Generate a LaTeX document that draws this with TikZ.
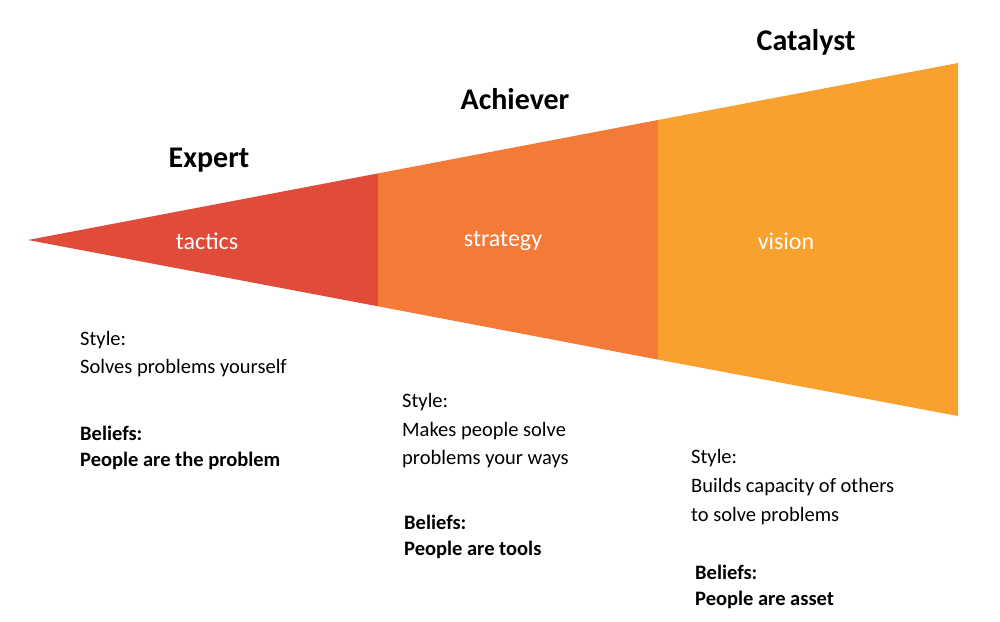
\documentclass[tikz,border=0pt]{standalone}
\usepackage{fontspec}
\setmainfont{Carlito}
\begin{document}
\begin{tikzpicture}[x=1pt,y=-1pt,
  title/.style={font=\fontsize{30}{34}\selectfont\bfseries},
  inner/.style={font=\fontsize{24}{28}\selectfont,text=white},
  body/.style={font=\fontsize{20.5}{24}\selectfont,anchor=west,inner sep=0pt},
  bbody/.style={body,font=\fontsize{20.5}{24}\selectfont\bfseries}]
\useasboundingbox (0,0) rectangle (1000,621);
\definecolor{cA}{HTML}{E04B3A}
\definecolor{cB}{HTML}{F47B37}
\definecolor{cC}{HTML}{F9A12E}
\coordinate (tip) at (28,240);
\fill[cA] (tip) -- (378,173.4) -- (378,306.3) -- cycle;
\fill[cB] (378,173.4) -- (658,120) -- (658,359.6) -- (378,306.3) -- cycle;
\fill[cC] (658,120) -- (958,63) -- (958,416) -- (658,359.6) -- cycle;
\node[title] (t1) at (209,160) {Expert};
\node[title] (t2) at (515,99) {Achiever};
\node[title] (t3) at (806,42) {Catalyst};
\node[inner] (i1) at (207,241) {tactics};
\node[inner] (i2) at (503,241) {strategy};
\node[inner] (i3) at (786,241) {vision};
\node[body] (a1) at (80,340) {Style:};
\node[body] (a2) at (80,368) {Solves problems yourself};
\node[bbody] (a3) at (80,433) {Beliefs:};
\node[bbody] (a4) at (80,461) {People are the problem};
\node[body] (b1) at (402,402) {Style:};
\node[body] (b2) at (402,431) {Makes people solve};
\node[body] (b3) at (402,459) {problems your ways};
\node[bbody] (b4) at (404,522) {Beliefs:};
\node[bbody] (b5) at (404,550) {People are tools};
\node[body] (c1) at (691,458) {Style:};
\node[body] (c2) at (691,487) {Builds capacity of others};
\node[body] (c3) at (691,516) {to solve problems};
\node[bbody] (c4) at (695,572) {Beliefs:};
\node[bbody] (c5) at (695,600) {People are asset};
\end{tikzpicture}
\end{document}
